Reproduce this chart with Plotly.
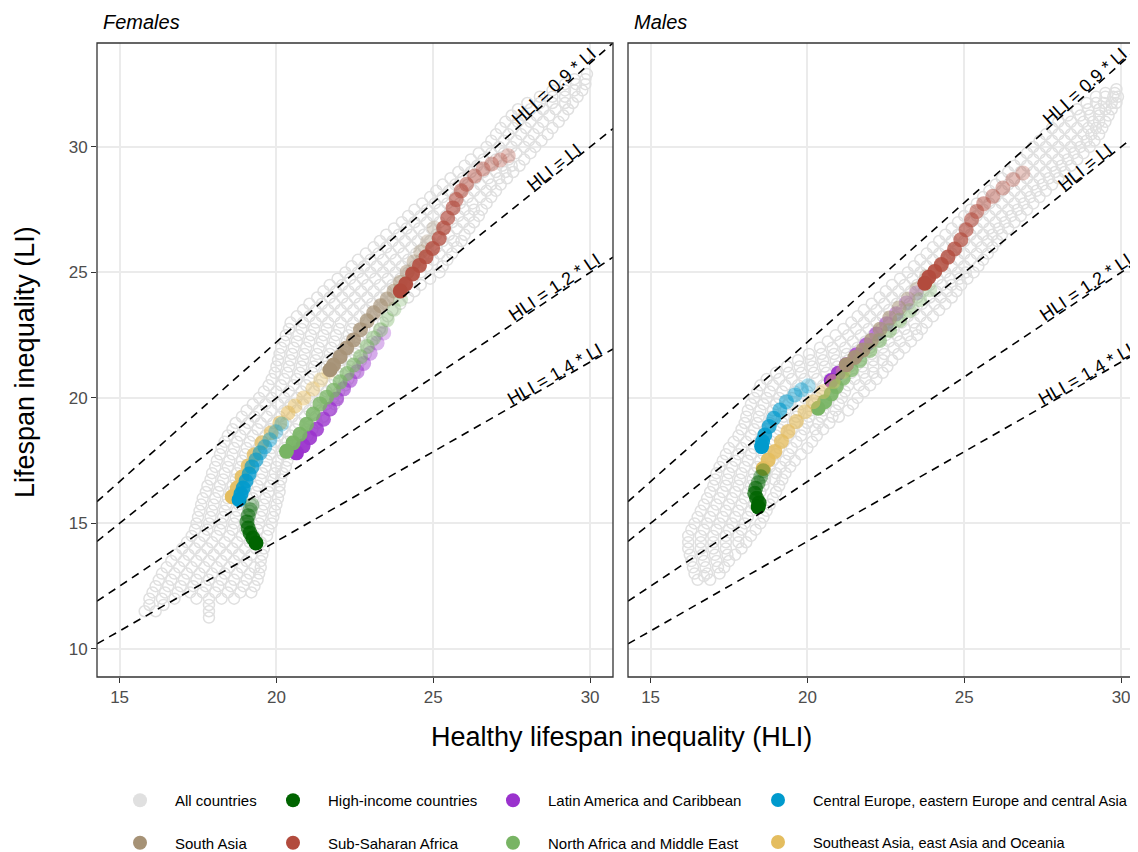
import numpy as np
import plotly.graph_objects as go

# ---------------- data ----------------
# each regional trajectory: (HLI, LI) pairs, oldest year first
fem_hic = [(19.22, 15.74), (19.16, 15.54), (19.10, 15.30), (19.06, 15.06), (19.10, 14.82),
           (19.16, 14.62), (19.25, 14.42), (19.35, 14.22)]
fem_lac = [(23.42, 22.59), (23.21, 22.19), (22.99, 21.78), (22.78, 21.37), (22.57, 21.04),
           (22.35, 20.70), (22.14, 20.36), (21.92, 19.96), (21.71, 19.56), (21.50, 19.15),
           (21.28, 18.75), (21.06, 18.41), (20.85, 18.09), (20.64, 17.81)]
fem_cee = [(20.17, 18.96), (19.98, 18.65), (19.79, 18.33), (19.63, 18.05), (19.48, 17.81),
           (19.35, 17.53), (19.22, 17.25), (19.13, 16.97), (19.03, 16.69), (18.94, 16.41),
           (18.87, 16.18), (18.81, 15.94)]
fem_sa = [(25.03, 26.77), (24.82, 26.22), (24.60, 25.82), (24.39, 25.42), (24.17, 25.02),
          (23.95, 24.61), (23.75, 24.26), (23.53, 23.94), (23.32, 23.67), (23.10, 23.39),
          (22.89, 23.07), (22.68, 22.72), (22.46, 22.31), (22.24, 21.99), (22.03, 21.64),
          (21.82, 21.31), (21.71, 21.12)]
fem_ssa = [(27.39, 29.65), (27.13, 29.48), (26.86, 29.32), (26.59, 29.12), (26.32, 28.84),
           (26.06, 28.51), (25.89, 28.25), (25.73, 27.90), (25.63, 27.57), (25.46, 27.17),
           (25.33, 26.77), (25.19, 26.35), (24.98, 25.95), (24.77, 25.62), (24.56, 25.28),
           (24.34, 24.94), (24.12, 24.54), (23.95, 24.26)]
fem_name = [(23.96, 23.93), (23.75, 23.53), (23.53, 23.12), (23.32, 22.72), (23.10, 22.39),
            (22.89, 22.05), (22.68, 21.64), (22.46, 21.31), (22.25, 20.97), (22.03, 20.64),
            (21.82, 20.30), (21.60, 20.03), (21.39, 19.76), (21.17, 19.36), (20.96, 18.95),
            (20.75, 18.55), (20.53, 18.21), (20.32, 17.87)]
fem_sea = [(21.67, 21.04), (21.41, 20.72), (21.16, 20.36), (20.87, 20.00), (20.59, 19.68),
           (20.37, 19.40), (20.11, 19.00), (19.83, 18.61), (19.54, 18.21), (19.29, 17.73),
           (19.10, 17.29), (18.90, 16.85), (18.75, 16.41), (18.59, 16.06)]

mal_hic = [(18.59, 17.10), (18.51, 16.86), (18.43, 16.62), (18.35, 16.40), (18.32, 16.20),
           (18.38, 16.00), (18.46, 15.82), (18.43, 15.66)]
mal_lac = [(23.47, 24.18), (23.15, 23.78), (22.83, 23.35), (22.52, 22.95), (22.20, 22.55),
           (21.88, 22.12), (21.56, 21.72), (21.24, 21.32), (20.98, 20.98), (20.76, 20.69)]
mal_cee = [(20.02, 20.48), (19.81, 20.32), (19.60, 20.12), (19.33, 19.85), (19.12, 19.52),
           (18.93, 19.19), (18.78, 18.86), (18.64, 18.52), (18.57, 18.26), (18.54, 18.06)]
mal_sa = [(23.79, 24.84), (23.49, 24.34), (23.21, 23.94), (22.92, 23.58), (22.62, 23.18),
          (22.32, 22.74), (22.04, 22.29), (21.77, 21.91), (21.51, 21.61), (21.24, 21.32)]
mal_ssa = [(26.87, 28.96), (26.55, 28.70), (26.23, 28.36), (25.91, 28.03), (25.62, 27.74),
           (25.40, 27.43), (25.23, 27.10), (25.06, 26.70), (24.89, 26.30), (24.69, 25.93),
           (24.48, 25.61), (24.27, 25.31), (24.06, 25.04), (23.87, 24.81), (23.74, 24.57)]
mal_name = [(23.90, 24.31), (23.58, 23.91), (23.26, 23.48), (22.94, 23.09), (22.62, 22.69),
            (22.30, 22.29), (21.99, 21.89), (21.67, 21.49), (21.40, 21.12), (21.14, 20.78),
            (20.92, 20.45), (20.76, 20.16), (20.55, 19.85), (20.34, 19.59)]
mal_sea = [(21.14, 21.05), (20.82, 20.65), (20.50, 20.25), (20.18, 19.85), (19.92, 19.45),
           (19.65, 19.06), (19.38, 18.66), (19.17, 18.26), (18.96, 17.86), (18.75, 17.53),
           (18.59, 17.19)]

# all countries / years: rows of (LI, [HLI values])
fem_all = [
    (11.25, [17.85]),
    (11.5, [15.8, 16.15, 17.85]),
    (11.75, [15.95, 16.4, 17.85]),
    (12.0, [15.95, 16.35, 16.75, 17.45, 17.85, 18.25, 18.65]),
    (12.25, [16.05, 16.45, 16.85, 17.25, 17.65, 18.05, 18.45, 18.85, 19.2]),
    (12.5, [16.15, 16.55, 16.95, 17.35, 17.75, 18.15, 18.55, 18.95, 19.3]),
    (12.75, [16.25, 16.65, 17.05, 17.45, 17.85, 18.25, 18.65, 19.05, 19.4]),
    (13.0, [16.35, 16.75, 17.15, 17.55, 17.95, 18.35, 18.75, 19.15, 19.45]),
    (13.25, [16.5, 16.9, 17.3, 17.7, 18.1, 18.5, 18.9, 19.3, 19.5]),
    (13.5, [16.65, 17.05, 17.45, 17.85, 18.25, 18.65, 19.05, 19.5]),
    (13.75, [16.8, 17.2, 17.6, 18.0, 18.4, 18.8, 19.2, 19.55]),
    (14.0, [17.0, 17.4, 17.8, 18.2, 18.6, 19.0, 19.35, 19.6]),
    (14.25, [17.15, 17.55, 17.95, 18.35, 18.75, 19.15, 19.5]),
    (14.5, [17.3, 17.7, 18.1, 18.5, 18.9, 19.3, 19.7]),
    (14.75, [17.4, 17.8, 18.2, 18.6, 19.0, 19.4, 19.75]),
    (15.0, [17.45, 17.85, 18.25, 18.65, 19.05, 19.45, 19.85]),
    (15.25, [17.5, 17.9, 18.3, 18.7, 19.1, 19.5, 19.9]),
    (15.5, [17.55, 17.95, 18.35, 18.75, 19.15, 19.55, 19.95]),
    (15.75, [17.6, 18.0, 18.4, 18.8, 19.2, 19.6, 20.0]),
    (16.0, [17.65, 18.05, 18.45, 18.85, 19.25, 19.65, 20.05]),
    (16.25, [17.75, 18.15, 18.55, 18.95, 19.35, 19.75, 20.1]),
    (16.5, [17.8, 18.2, 18.6, 19.0, 19.4, 19.8, 20.1]),
    (16.75, [17.9, 18.3, 18.7, 19.1, 19.5, 19.9, 20.15]),
    (17.0, [17.95, 18.35, 18.75, 19.15, 19.55, 19.95, 20.2]),
    (17.25, [18.05, 18.45, 18.85, 19.25, 19.65, 20.0, 20.3]),
    (17.5, [18.1, 18.5, 18.9, 19.3, 19.7, 20.05, 20.35]),
    (17.75, [18.2, 18.6, 19.0, 19.4, 19.8, 20.2, 20.5]),
    (18.0, [18.25, 18.65, 19.05, 19.45, 19.85, 20.25, 20.7]),
    (18.25, [18.35, 18.75, 19.15, 19.55, 19.95, 20.35, 20.85]),
    (18.5, [18.45, 18.85, 19.25, 19.65, 20.05, 20.45, 20.8, 21.0]),
    (18.75, [18.6, 19.0, 19.4, 19.8, 20.2, 20.6, 20.95, 21.15]),
    (19.0, [18.7, 19.1, 19.5, 19.9, 20.3, 20.7, 21.05, 21.3]),
    (19.25, [18.9, 19.3, 19.7, 20.1, 20.5, 20.9, 21.25, 21.5]),
    (19.5, [19.05, 19.45, 19.85, 20.25, 20.65, 21.05, 21.4, 21.7]),
    (19.75, [19.25, 19.65, 20.05, 20.45, 20.85, 21.25, 21.6, 21.85]),
    (20.0, [19.45, 19.85, 20.25, 20.65, 21.05, 21.45, 21.8, 21.95]),
    (20.25, [19.6, 20.0, 20.4, 20.8, 21.2, 21.6, 22.0]),
    (20.5, [19.75, 20.15, 20.55, 20.95, 21.35, 21.75, 22.2]),
    (20.75, [19.85, 20.25, 20.65, 21.05, 21.45, 21.85, 22.3]),
    (21.0, [19.95, 20.35, 20.75, 21.15, 21.55, 21.95, 22.5]),
    (21.25, [20.0, 20.4, 20.8, 21.2, 21.6, 22.0, 22.35, 22.6]),
    (21.5, [20.05, 20.45, 20.85, 21.25, 21.65, 22.05, 22.4, 22.7]),
    (21.75, [20.1, 20.5, 20.9, 21.3, 21.7, 22.1, 22.5, 22.85]),
    (22.0, [20.15, 20.55, 20.95, 21.35, 21.75, 22.15, 22.55, 22.95]),
    (22.25, [20.25, 20.65, 21.05, 21.45, 21.85, 22.25, 22.65, 23.05]),
    (22.5, [20.3, 20.7, 21.1, 21.5, 21.9, 22.3, 22.7, 23.2]),
    (22.75, [20.4, 20.8, 21.2, 21.6, 22.0, 22.4, 22.8, 23.3]),
    (23.0, [20.45, 20.85, 21.25, 21.65, 22.05, 22.45, 22.85, 23.4]),
    (23.25, [20.65, 21.05, 21.45, 21.85, 22.25, 22.65, 23.05, 23.55]),
    (23.5, [20.85, 21.25, 21.65, 22.05, 22.45, 22.85, 23.25, 23.7]),
    (23.75, [21.05, 21.45, 21.85, 22.25, 22.65, 23.05, 23.45, 23.95]),
    (24.0, [21.3, 21.7, 22.1, 22.5, 22.9, 23.3, 23.7, 24.2]),
    (24.25, [21.5, 21.9, 22.3, 22.7, 23.1, 23.5, 23.9, 24.4]),
    (24.5, [21.7, 22.1, 22.5, 22.9, 23.3, 23.7, 24.1, 24.6]),
    (24.75, [21.95, 22.35, 22.75, 23.15, 23.55, 23.95, 24.35, 24.9]),
    (25.0, [22.2, 22.6, 23.0, 23.4, 23.8, 24.2, 24.6, 25.2]),
    (25.25, [22.4, 22.8, 23.2, 23.6, 24.0, 24.4, 24.8, 25.3]),
    (25.5, [22.6, 23.0, 23.4, 23.8, 24.2, 24.6, 25.0, 25.45]),
    (25.75, [22.85, 23.25, 23.65, 24.05, 24.45, 24.85, 25.2, 25.6]),
    (26.0, [23.1, 23.5, 23.9, 24.3, 24.7, 25.1, 25.45, 25.75]),
    (26.25, [23.3, 23.7, 24.1, 24.5, 24.9, 25.3, 25.65, 25.9]),
    (26.5, [23.5, 23.9, 24.3, 24.7, 25.1, 25.5, 26.0]),
    (26.75, [23.75, 24.15, 24.55, 24.95, 25.35, 25.75, 26.15]),
    (27.0, [24.0, 24.4, 24.8, 25.2, 25.6, 25.95, 26.3]),
    (27.25, [24.2, 24.6, 25.0, 25.4, 25.8, 26.15, 26.45]),
    (27.5, [24.4, 24.8, 25.2, 25.6, 26.0, 26.3, 26.55]),
    (27.75, [24.65, 25.05, 25.45, 25.85, 26.25, 26.7]),
    (28.0, [24.9, 25.3, 25.7, 26.1, 26.5, 26.85]),
    (28.25, [25.1, 25.5, 25.9, 26.3, 26.7, 27.0]),
    (28.5, [25.3, 25.7, 26.1, 26.5, 26.85, 27.15]),
    (28.75, [25.55, 25.95, 26.35, 26.75, 27.1, 27.35]),
    (29.0, [25.8, 26.2, 26.6, 27.0, 27.3, 27.55]),
    (29.25, [26.0, 26.4, 26.8, 27.2, 27.5, 27.75]),
    (29.5, [26.2, 26.6, 27.0, 27.4, 27.9]),
    (29.75, [26.45, 26.85, 27.25, 27.65, 28.1]),
    (30.0, [26.7, 27.1, 27.5, 27.9, 28.25]),
    (30.25, [26.85, 27.25, 27.65, 28.05, 28.45]),
    (30.5, [27.0, 27.4, 27.8, 28.2, 28.65]),
    (30.75, [27.15, 27.55, 27.95, 28.35, 28.8]),
    (31.0, [27.3, 27.7, 28.1, 28.5, 29.0]),
    (31.25, [27.5, 27.9, 28.3, 28.7, 29.15]),
    (31.5, [27.7, 28.1, 28.5, 28.9, 29.3]),
    (31.75, [28.0, 28.4, 28.8, 29.2, 29.45]),
    (32.0, [28.4, 28.8, 29.2, 29.6]),
    (32.25, [28.8, 29.2, 29.5, 29.75]),
    (32.5, [29.2, 29.55, 29.85]),
    (32.7, [29.5, 29.85]),
    (32.9, [29.9]),
]
mal_all = [
    (12.75, [16.5, 16.9]),
    (12.9, [16.7]),
    (13.0, [16.4, 16.8, 17.2]),
    (13.25, [16.35, 16.75, 17.15, 17.35]),
    (13.5, [16.3, 16.7, 17.1, 17.5]),
    (13.75, [16.25, 16.65, 17.05, 17.45, 17.7]),
    (14.0, [16.2, 16.6, 17.0, 17.4, 17.9]),
    (14.25, [16.2, 16.6, 17.0, 17.4, 17.8, 18.05]),
    (14.5, [16.2, 16.6, 17.0, 17.4, 17.8, 18.2]),
    (14.75, [16.3, 16.7, 17.1, 17.5, 17.9, 18.35]),
    (15.0, [16.4, 16.8, 17.2, 17.6, 18.0, 18.5]),
    (15.25, [16.5, 16.9, 17.3, 17.7, 18.1, 18.6]),
    (15.5, [16.6, 17.0, 17.4, 17.8, 18.2, 18.7]),
    (15.75, [16.7, 17.1, 17.5, 17.9, 18.3, 18.8]),
    (16.0, [16.8, 17.2, 17.6, 18.0, 18.4, 18.9]),
    (16.25, [16.9, 17.3, 17.7, 18.1, 18.5, 19.0]),
    (16.5, [17.0, 17.4, 17.8, 18.2, 18.6, 19.1]),
    (16.75, [17.05, 17.45, 17.85, 18.25, 18.65, 18.95, 19.2]),
    (17.0, [17.1, 17.5, 17.9, 18.3, 18.7, 19.0, 19.3]),
    (17.25, [17.2, 17.6, 18.0, 18.4, 18.8, 19.15, 19.45]),
    (17.5, [17.3, 17.7, 18.1, 18.5, 18.9, 19.3, 19.6]),
    (17.75, [17.4, 17.8, 18.2, 18.6, 19.0, 19.4, 19.8]),
    (18.0, [17.5, 17.9, 18.3, 18.7, 19.1, 19.5, 20.0]),
    (18.25, [17.65, 18.05, 18.45, 18.85, 19.25, 19.65, 20.15]),
    (18.5, [17.8, 18.2, 18.6, 19.0, 19.4, 19.8, 20.3]),
    (18.75, [17.9, 18.3, 18.7, 19.1, 19.5, 19.9, 20.25, 20.5]),
    (19.0, [18.0, 18.4, 18.8, 19.2, 19.6, 20.0, 20.35, 20.7]),
    (19.25, [18.05, 18.45, 18.85, 19.25, 19.65, 20.05, 20.45, 20.8, 21.0]),
    (19.5, [18.1, 18.5, 18.9, 19.3, 19.7, 20.1, 20.5, 20.9, 21.3]),
    (19.75, [18.2, 18.6, 19.0, 19.4, 19.8, 20.2, 20.6, 21.0, 21.45]),
    (20.0, [18.3, 18.7, 19.1, 19.5, 19.9, 20.3, 20.7, 21.1, 21.6]),
    (20.25, [18.4, 18.8, 19.2, 19.6, 20.0, 20.4, 20.8, 21.2, 21.8]),
    (20.5, [18.5, 18.9, 19.3, 19.7, 20.1, 20.5, 20.9, 21.3, 21.65, 22.0]),
    (20.75, [18.7, 19.1, 19.5, 19.9, 20.3, 20.7, 21.1, 21.5, 21.85, 22.2]),
    (21.0, [19.0, 19.4, 19.8, 20.2, 20.6, 21.0, 21.4, 21.8, 22.1, 22.4]),
    (21.25, [19.35, 19.75, 20.15, 20.55, 20.95, 21.35, 21.75, 22.1, 22.55]),
    (21.5, [19.7, 20.1, 20.5, 20.9, 21.3, 21.7, 22.1, 22.4, 22.7]),
    (21.75, [20.05, 20.45, 20.85, 21.25, 21.65, 22.05, 22.45, 22.9]),
    (22.0, [20.4, 20.8, 21.2, 21.6, 22.0, 22.4, 22.75, 23.1]),
    (22.25, [20.65, 21.05, 21.45, 21.85, 22.25, 22.6, 22.95, 23.3]),
    (22.5, [20.9, 21.3, 21.7, 22.1, 22.5, 22.85, 23.2, 23.5]),
    (22.75, [21.15, 21.55, 21.95, 22.35, 22.75, 23.1, 23.45, 23.65]),
    (23.0, [21.4, 21.8, 22.2, 22.6, 23.0, 23.4, 23.8]),
    (23.25, [21.6, 22.0, 22.4, 22.8, 23.2, 23.6, 24.0]),
    (23.5, [21.8, 22.2, 22.6, 23.0, 23.4, 23.8, 24.2]),
    (23.75, [22.05, 22.45, 22.85, 23.25, 23.65, 24.05, 24.4]),
    (24.0, [22.3, 22.7, 23.1, 23.5, 23.9, 24.25, 24.6]),
    (24.25, [22.5, 22.9, 23.3, 23.7, 24.1, 24.45, 24.75]),
    (24.5, [22.7, 23.1, 23.5, 23.9, 24.3, 24.6, 24.9]),
    (24.75, [22.95, 23.35, 23.75, 24.15, 24.55, 24.85, 25.1]),
    (25.0, [23.2, 23.6, 24.0, 24.4, 24.8, 25.05, 25.3]),
    (25.25, [23.4, 23.8, 24.2, 24.6, 25.0, 25.45]),
    (25.5, [23.6, 24.0, 24.4, 24.8, 25.2, 25.6]),
    (25.75, [23.8, 24.2, 24.6, 25.0, 25.4, 25.75]),
    (26.0, [24.0, 24.4, 24.8, 25.2, 25.55, 25.9]),
    (26.25, [24.2, 24.6, 25.0, 25.4, 25.75, 26.05]),
    (26.5, [24.4, 24.8, 25.2, 25.6, 25.9, 26.2]),
    (26.75, [24.6, 25.0, 25.4, 25.8, 26.1, 26.4]),
    (27.0, [24.8, 25.2, 25.6, 26.0, 26.3, 26.6]),
    (27.25, [25.0, 25.4, 25.8, 26.2, 26.5, 26.8]),
    (27.5, [25.2, 25.6, 26.0, 26.4, 26.7, 27.0]),
    (27.75, [25.4, 25.8, 26.2, 26.6, 26.9, 27.2]),
    (28.0, [25.6, 26.0, 26.4, 26.8, 27.1, 27.4]),
    (28.25, [25.8, 26.2, 26.6, 27.0, 27.3, 27.6]),
    (28.5, [26.0, 26.4, 26.8, 27.2, 27.5, 27.8]),
    (28.75, [26.2, 26.6, 27.0, 27.4, 27.7, 28.0]),
    (29.0, [26.4, 26.8, 27.2, 27.6, 27.9, 28.2]),
    (29.25, [26.6, 27.0, 27.4, 27.8, 28.1, 28.4]),
    (29.5, [26.8, 27.2, 27.6, 28.0, 28.3, 28.6]),
    (29.75, [27.0, 27.4, 27.8, 28.2, 28.5, 28.8]),
    (30.0, [27.2, 27.6, 28.0, 28.4, 28.7, 29.0]),
    (30.25, [27.4, 27.8, 28.2, 28.6, 28.9, 29.15]),
    (30.5, [27.6, 28.0, 28.4, 28.8, 29.05, 29.3]),
    (30.75, [27.8, 28.2, 28.6, 28.95, 29.2, 29.4]),
    (31.0, [28.0, 28.4, 28.8, 29.1, 29.3, 29.5]),
    (31.25, [28.3, 28.7, 29.0, 29.3, 29.6]),
    (31.5, [28.6, 28.95, 29.3, 29.5, 29.7]),
    (31.75, [28.9, 29.2, 29.45, 29.7, 29.85]),
    (32.0, [29.2, 29.5, 29.75, 29.9]),
    (32.15, [29.5, 29.8]),
    (32.3, [29.85]),
]

ratios = [0.9, 1.0, 1.2, 1.4]
ratio_labels = ["HLI = 0.9 * LI", "HLI = LI", "HLI = 1.2 * LI", "HLI = 1.4 * LI"]
label_hli = 29.0
panel_titles = ["Females", "Males"]
x_ticks = [15, 20, 25, 30]
y_ticks = [10, 15, 20, 25, 30]

regions = ["High-income countries", "Latin America and Caribbean",
           "Central Europe, eastern Europe and central Asia", "South Asia",
           "Sub-Saharan Africa", "North Africa and Middle East",
           "Southeast Asia, east Asia and Oceania"]
fem_series = dict(zip(regions, [fem_hic, fem_lac, fem_cee, fem_sa, fem_ssa, fem_name, fem_sea]))
mal_series = dict(zip(regions, [mal_hic, mal_lac, mal_cee, mal_sa, mal_ssa, mal_name, mal_sea]))

# ---------------- style ----------------
colors = {
    "All countries": "#E0E0E0",
    "High-income countries": "#006400",
    "Latin America and Caribbean": "#9A32CD",
    "Central Europe, eastern Europe and central Asia": "#009ACD",
    "South Asia": "#A69276",
    "Sub-Saharan Africa": "#B24B3D",
    "North Africa and Middle East": "#78B464",
    "Southeast Asia, east Asia and Oceania": "#E4BD5F",
}
draw_order = ["Latin America and Caribbean", "North Africa and Middle East",
              "Southeast Asia, east Asia and Oceania",
              "Central Europe, eastern Europe and central Asia", "High-income countries",
              "South Asia", "Sub-Saharan Africa"]
legend_cols = [["All countries", "South Asia"],
               ["High-income countries", "Sub-Saharan Africa"],
               ["Latin America and Caribbean", "North Africa and Middle East"],
               ["Central Europe, eastern Europe and central Asia",
                "Southeast Asia, east Asia and Oceania"]]
legend_marker_px = [140, 293, 513, 778]   # screen x of legend key centres
legend_font_px = [15, 15, 15, 14.6]

FONT = "Liberation Sans, Arial, sans-serif"
OFF = 8                       # page body margin of the browser
FW, FH = 1138 - OFF, 852 - OFF
PT, PB = 43, 677              # screen y of panel top / bottom
MT, MB = PT - OFF, FH - (PB - OFF)
PL0, PL1, PR0 = 97, 613, 628  # screen x of panel edges
X0, X1 = 14.28, 30.73
Y0, Y1 = 8.88, 34.14
xs_px = (PL1 - PL0) / (X1 - X0)
X1R = X0 + (1138 - PR0) / xs_px
plot_h = PB - PT
ys_px = plot_h / (Y1 - Y0)


def fx(px):
    return (px - OFF) / FW


def fy(py):
    return (PB - py) / plot_h


fig = go.Figure()

panels = [("x", "y", fem_all, fem_series), ("x2", "y2", mal_all, mal_series)]
for xa, ya, rows, series in panels:
    gx = [h for li, hs in rows for h in hs]
    gy = [li for li, hs in rows for h in hs]
    fig.add_trace(go.Scatter(x=gx, y=gy, mode="markers", xaxis=xa, yaxis=ya,
                             marker=dict(symbol="circle-open", size=11, color="#E0E0E0",
                                         line=dict(width=1.5)),
                             showlegend=False, hoverinfo="skip", name="All countries",
                             legendgroup="All countries"))
    for name in draw_order:
        pts = series[name]
        n = len(pts)
        fig.add_trace(go.Scatter(x=[p[0] for p in pts], y=[p[1] for p in pts], mode="markers",
                                 xaxis=xa, yaxis=ya,
                                 marker=dict(size=15, color=colors[name],
                                             opacity=list(np.linspace(0.3, 1.0, n)),
                                             line=dict(width=0)),
                                 showlegend=False, name=name, legendgroup=name))
    xe = X1 if xa == "x" else X1R
    for r in ratios:
        fig.add_trace(go.Scatter(x=[X0, xe], y=[X0 / r, xe / r], mode="lines",
                                 xaxis=xa, yaxis=ya,
                                 line=dict(color="black", width=1.6, dash="8px,6px"),
                                 showlegend=False, hoverinfo="skip"))

# legend-only entries
for i, col in enumerate(legend_cols):
    lname = "legend" if i == 0 else f"legend{i + 1}"
    for name in col:
        fig.add_trace(go.Scatter(x=[None], y=[None], mode="markers", name=name,
                                 marker=dict(size=14, color=colors[name]),
                                 legend=lname, legendgroup=name, showlegend=True))

annotations = []
for xr in ["x", "x2"]:
    for r, lab in zip(ratios, ratio_labels):
        ang = np.degrees(np.arctan((1 / r) * ys_px / xs_px))
        off = 7
        annotations.append(dict(x=label_hli, y=label_hli / r, xref=xr, yref="y",
                                text=lab, showarrow=False, textangle=-ang,
                                xanchor="center", yanchor="middle",
                                xshift=-off * np.sin(np.radians(ang)),
                                yshift=off * np.cos(np.radians(ang)),
                                font=dict(family=FONT, size=18, color="black")))
for title, px in zip(panel_titles, [PL0, PR0]):
    annotations.append(dict(x=fx(px + 4), y=fy(22), xref="paper", yref="paper",
                            text=f"<i>{title}</i>", showarrow=False, xanchor="left",
                            yanchor="middle", font=dict(family=FONT, size=20, color="black")))
annotations.append(dict(x=fx(621), y=fy(737), xref="paper", yref="paper",
                        text="Healthy lifespan inequality (HLI)", showarrow=False,
                        xanchor="center", yanchor="middle",
                        font=dict(family=FONT, size=27, color="black")))
annotations.append(dict(x=fx(25), y=fy(362), xref="paper", yref="paper",
                        text="Lifespan inequality (LI)", showarrow=False, textangle=-90,
                        xanchor="center", yanchor="middle",
                        font=dict(family=FONT, size=27, color="black")))

shapes = [
    dict(type="rect", xref="paper", yref="paper", x0=fx(PL0), x1=fx(PL1), y0=0, y1=1,
         line=dict(color="#333333", width=1.3), layer="above"),
    dict(type="rect", xref="paper", yref="paper", x0=fx(PR0), x1=1.01, y0=0, y1=1,
         line=dict(color="#333333", width=1.3), layer="above"),
]

axis_common = dict(showgrid=True, gridcolor="#EBEBEB", gridwidth=1.6, zeroline=False,
                   showline=False, ticks="outside", ticklen=5, tickwidth=1.2,
                   tickcolor="#333333", ticklabeloverflow="allow",
                   tickfont=dict(family=FONT, size=17, color="#4D4D4D"))

legends = {}
for i, (mpx, fs) in enumerate(zip(legend_marker_px, legend_font_px)):
    lname = "legend" if i == 0 else f"legend{i + 1}"
    legends[lname] = dict(x=fx(mpx - 35), y=fy(784), xanchor="left",
                          yanchor="top", orientation="v", bgcolor="rgba(0,0,0,0)",
                          font=dict(family=FONT, size=fs, color="black"),
                          tracegroupgap=20, itemwidth=60, traceorder="grouped")

fig.update_layout(
    width=FW, height=FH,
    margin=dict(l=0, r=0, t=MT, b=MB, autoexpand=False),
    paper_bgcolor="white", plot_bgcolor="white",
    font=dict(family=FONT),
    xaxis=dict(domain=[fx(PL0), fx(PL1)], range=[X0, X1], tickvals=x_ticks, anchor="y",
               **axis_common),
    xaxis2=dict(domain=[fx(PR0), 1.0], range=[X0, X1R], tickvals=x_ticks, anchor="y2",
                **axis_common),
    yaxis=dict(domain=[0, 1], range=[Y0, Y1], tickvals=y_ticks, anchor="x", **axis_common),
    yaxis2=dict(domain=[0, 1], range=[Y0, Y1], tickvals=y_ticks, anchor="x2",
                showticklabels=False, showgrid=True, gridcolor="#EBEBEB", gridwidth=1.6,
                zeroline=False, ticks=""),
    annotations=annotations,
    shapes=shapes,
    hovermode=False,
    **legends,
)

fig.write_html("out.html")
